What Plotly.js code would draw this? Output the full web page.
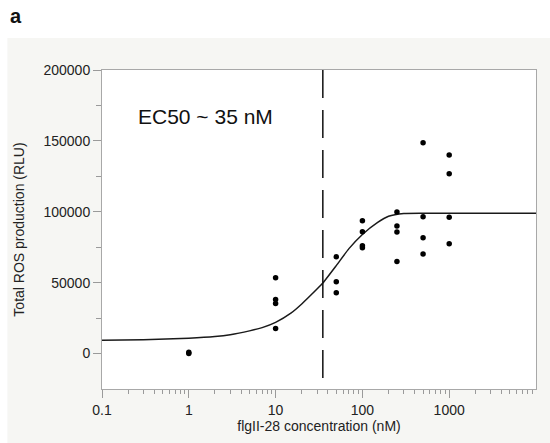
<!DOCTYPE html>
<html>
<head>
<meta charset="utf-8">
<script src="https://cdn.plot.ly/plotly-3.0.1.min.js"></script>
<style>
  html, body { margin: 0; padding: 0; background: #ffffff; }
  #chart { width: 550px; height: 443px; }
</style>
</head>
<body>
<div id="chart"></div>
<script>
// ---- data ----
const concentration = [1, 1, 10, 10, 10, 10, 50, 50, 50, 100, 100, 100, 100,
                       250, 250, 250, 250, 500, 500, 500, 500, 1000, 1000, 1000, 1000];
const rosValues = [0, 1000, 53400, 38200, 35300, 17700, 68300, 50600, 42800,
                   93700, 85900, 76000, 74600, 99900, 90000, 85700, 65000,
                   148600, 96500, 81700, 70200, 140100, 126900, 96100, 77500];

const fitX = [0.1, 0.3, 1, 2, 3, 5, 7, 10, 15, 20, 30, 35, 50, 70, 100, 150, 200, 300, 500, 1000, 10000];
const fitY = [9400, 9700, 10800, 12000, 13300, 16000, 18300, 22000, 28500, 35000, 45500, 49700,
              62000, 74000, 84000, 92500, 96800, 98800, 99000, 99000, 99000];

const ec50 = 35;
const ec50Label = 'EC50 ~ 35 nM';
const yExtent = [-25000, 200000];
const xExtent = [0.1, 10000];

const xTickVals = [0.1, 1, 10, 100, 1000];
const xTickText = ['0.1', '1', '10', '100', '1000'];
const xMinorVals = [];
[0.1, 1, 10, 100, 1000].forEach(d => { for (let k = 2; k <= 9; k++) xMinorVals.push(d * k); });
const yTickVals = [0, 50000, 100000, 150000, 200000];
const yTickText = ['0', '50000', '100000', '150000', '200000'];
const yMinorVals = [25000, 75000, 125000, 175000];

const panelLabel = 'a';
const xTitle = 'flgII-28 concentration (nM)';
const yTitle = 'Total ROS production (RLU)';

const font = 'Liberation Sans, Arial, Helvetica, sans-serif';

const traces = [
  {
    x: fitX, y: fitY, mode: 'lines', type: 'scatter',
    line: { color: '#1a1a1a', width: 1.5, shape: 'spline', smoothing: 0.5 },
    hoverinfo: 'skip', showlegend: false
  },
  {
    x: [ec50, ec50], y: [yExtent[1], yExtent[0]], mode: 'lines', type: 'scatter',
    line: { color: '#111111', width: 1.5, dash: '28px,12px' },
    hoverinfo: 'skip', showlegend: false
  },
  {
    x: concentration, y: rosValues, mode: 'markers', type: 'scatter',
    marker: { color: '#000000', size: 5.5 },
    showlegend: false
  }
];

const layout = {
  width: 550, height: 443,
  margin: { l: 102, r: 14, t: 70, b: 54 },
  paper_bgcolor: '#ffffff',
  plot_bgcolor: '#ffffff',
  showlegend: false,
  font: { family: font, size: 14, color: '#222222' },
  xaxis: {
    type: 'log',
    range: [Math.log10(xExtent[0]), Math.log10(xExtent[1])],
    tickmode: 'array', tickvals: xTickVals, ticktext: xTickText,
    ticks: 'outside', ticklen: 8, tickcolor: '#9a9a9a', tickwidth: 1,
    minor: { tickmode: 'array', tickvals: xMinorVals, ticks: 'outside', ticklen: 4, tickcolor: '#9a9a9a', showgrid: false },
    showline: true, mirror: true, linecolor: '#a8a8a8', linewidth: 1,
    showgrid: false, zeroline: false,
    tickfont: { family: font, size: 14, color: '#222' },
    title: { text: xTitle, font: { family: font, size: 14, color: '#222' }, standoff: 0 }
  },
  yaxis: {
    range: yExtent,
    tickmode: 'array', tickvals: yTickVals, ticktext: yTickText,
    ticks: 'outside', ticklen: 8, tickcolor: '#9a9a9a', tickwidth: 1,
    minor: { tickmode: 'array', tickvals: yMinorVals, ticks: 'outside', ticklen: 5, tickcolor: '#9a9a9a', showgrid: false },
    showline: true, mirror: true, linecolor: '#a8a8a8', linewidth: 1,
    showgrid: false, zeroline: false,
    tickfont: { family: font, size: 14, color: '#222' },
    title: { text: yTitle, font: { family: font, size: 14, color: '#222' }, standoff: 15 }
  },
  shapes: [
    { type: 'rect', xref: 'paper', yref: 'paper', x0: -0.218, x1: 1.05, y0: -0.2, y1: 1.1005,
      fillcolor: '#f6f6f3', line: { width: 0 }, layer: 'below' },
    { type: 'rect', xref: 'paper', yref: 'paper', x0: 0, x1: 1, y0: 0, y1: 1,
      fillcolor: '#ffffff', line: { width: 0 }, layer: 'below' }
  ],
  annotations: [
    { text: ec50Label, xref: 'paper', yref: 'paper', x: 0.0785, y: 0.8556,
      xanchor: 'left', yanchor: 'middle', showarrow: false,
      font: { family: font, size: 21, color: '#111' } },
    { text: '<b>' + panelLabel + '</b>', xref: 'paper', yref: 'paper', x: -0.2157, y: 1.1695,
      xanchor: 'left', yanchor: 'middle', showarrow: false,
      font: { family: font, size: 20, color: '#111' } }
  ]
};

Plotly.newPlot('chart', traces, layout, { displayModeBar: false, staticPlot: true });
</script>
</body>
</html>
